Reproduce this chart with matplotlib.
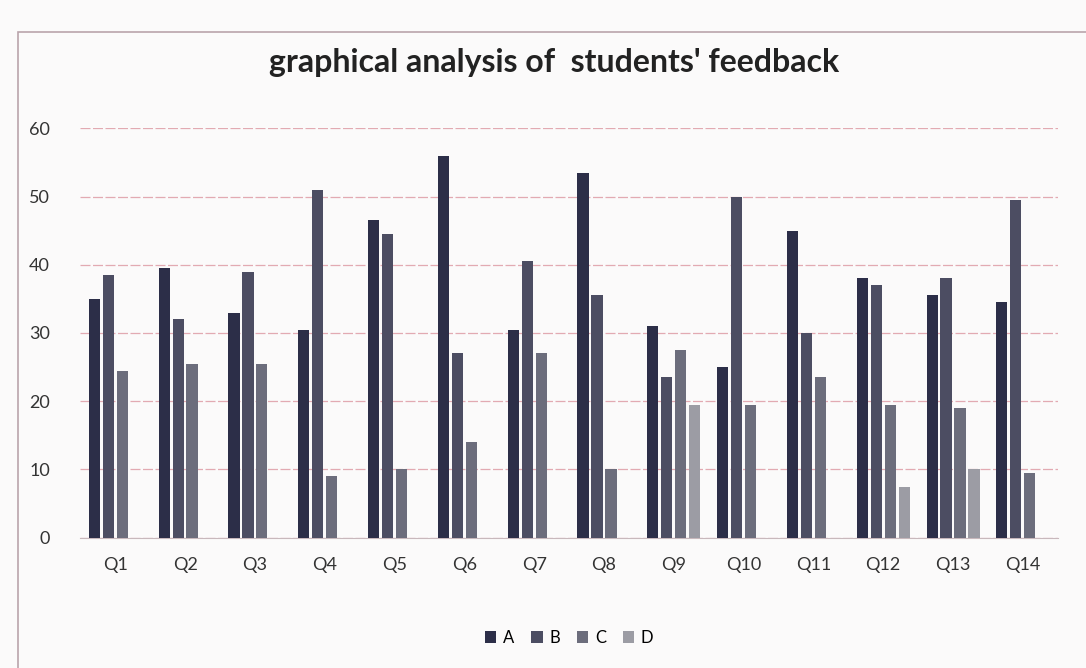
import numpy as np
import matplotlib.pyplot as plt
from matplotlib.patches import Rectangle

# Data
questions = ['Q1', 'Q2', 'Q3', 'Q4', 'Q5', 'Q6', 'Q7', 'Q8', 'Q9', 'Q10', 'Q11', 'Q12', 'Q13', 'Q14']
series_a = [35, 39.5, 33, 30.5, 46.5, 56, 30.5, 53.5, 31, 25, 45, 38, 35.5, 34.5]
series_b = [38.5, 32, 39, 51, 44.5, 27, 40.5, 35.5, 23.5, 50, 30, 37, 38, 49.5]
series_c = [24.5, 25.5, 25.5, 9, 10, 14, 27, 10, 27.5, 19.5, 23.5, 19.5, 19, 9.5]
series_d = [0, 0, 0, 0, 0, 0, 0, 0, 19.5, 0, 0, 7.5, 10, 0]
series_names = ['A', 'B', 'C', 'D']
y_ticks = [0, 10, 20, 30, 40, 50, 60]

colors = ['#2c2e48', '#4c4d62', '#6c6d7c', '#9c9ca4']
font = ['Lato', 'DejaVu Sans']
plt.rcParams['font.family'] = font

fig = plt.figure(figsize=(10.86, 6.68), dpi=100)
fig.patch.set_facecolor('#fbfafa')
ax = fig.add_axes([0.074, 0.195, 0.9, 0.613])
ax.set_facecolor('#fbfafa')

# chart frame
fig.patches.append(Rectangle((0.017, -0.01), 1.0, 0.962, transform=fig.transFigure,
                             fill=False, edgecolor='#b9a4ab', linewidth=1.2))

x = np.arange(len(questions))
width = 0.16
offsets = [-0.3, -0.1, 0.1, 0.3]
for vals, name, col, off in zip([series_a, series_b, series_c, series_d], series_names, colors, offsets):
    ax.bar(x + off, vals, width, color=col, label=name, zorder=3)

ax.set_ylim(0, 60)
ax.set_xlim(-0.5, len(questions) - 0.5)
ax.set_yticks(y_ticks)
ax.set_xticks(x)
ax.set_xticklabels(questions)
ax.tick_params(axis='both', length=0, labelsize=13, colors='#333333')
ax.tick_params(axis='x', pad=14)
ax.tick_params(axis='y', pad=22)
ax.yaxis.grid(True, color='#e2aab2', linestyle=(0, (8, 2)), linewidth=0.9, zorder=0)
for s in ['top', 'right', 'left']:
    ax.spines[s].set_visible(False)
ax.spines['bottom'].set_color('#c8b8bc')

fig.text(0.51, 0.907, "graphical analysis of  students' feedback", ha='center', va='center',
         fontsize=23, fontweight='bold', color='#222222')

ax.legend(loc='upper center', bbox_to_anchor=(0.5, -0.188), ncol=4, frameon=False,
          fontsize=12, handlelength=0.7, handleheight=0.7, handletextpad=0.4, columnspacing=1.0)

fig.savefig('out.png', dpi=100, facecolor=fig.get_facecolor())
